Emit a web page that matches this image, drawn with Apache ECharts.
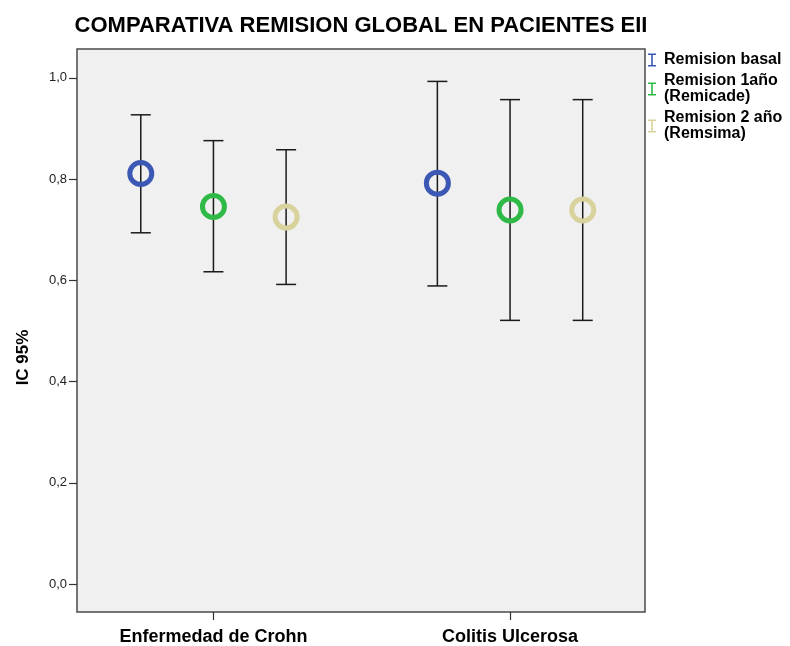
<!DOCTYPE html>
<html>
<head>
<meta charset="utf-8">
<script src="https://cdn.jsdelivr.net/npm/echarts@6/dist/echarts.min.js"></script>
<style>html,body{margin:0;padding:0;background:#fff}#c{width:790px;height:646px}</style>
</head>
<body>
<div id="c"></div>
<script>
const categories = ['Enfermedad de Crohn', 'Colitis Ulcerosa'];
const seriesNames = ['Remision basal', 'Remision 1año\n(Remicade)', 'Remision 2 año\n(Remsima)'];
const seriesColors = ['#3b58b4', '#2fba48', '#d8d39c'];
// mean, lower, upper per category
const basalMean = [0.811, 0.792];
const basalLow = [0.694, 0.589];
const basalHigh = [0.927, 0.993];
const remicadeMean = [0.746, 0.739];
const remicadeLow = [0.617, 0.521];
const remicadeHigh = [0.876, 0.957];
const remsimaMean = [0.725, 0.739];
const remsimaLow = [0.592, 0.521];
const remsimaHigh = [0.858, 0.957];
const yTicks = [0, 0.2, 0.4, 0.6, 0.8, 1.0];

const means = [basalMean, remicadeMean, remsimaMean];
const lows = [basalLow, remicadeLow, remsimaLow];
const highs = [basalHigh, remicadeHigh, remsimaHigh];
const offsets = [-0.245, 0, 0.245];
const catPos = categories.map((c, i) => i + 1);

const chart = echarts.init(document.getElementById('c'));
const series = [];
seriesNames.forEach((name, s) => {
  series.push({
    type: 'custom',
    name: name + '_err',
    silent: true,
    z: 2,
    renderItem: function (params, api) {
      const x = api.value(0);
      const lo = api.coord([x, api.value(1)]);
      const hi = api.coord([x, api.value(2)]);
      const hw = 10;
      const st = { stroke: '#1a1a1a', lineWidth: 1.5 };
      return {
        type: 'group',
        children: [
          { type: 'line', shape: { x1: lo[0], y1: lo[1], x2: hi[0], y2: hi[1] }, style: st },
          { type: 'line', shape: { x1: lo[0] - hw, y1: lo[1], x2: lo[0] + hw, y2: lo[1] }, style: st },
          { type: 'line', shape: { x1: hi[0] - hw, y1: hi[1], x2: hi[0] + hw, y2: hi[1] }, style: st }
        ]
      };
    },
    data: catPos.map((p, i) => [p + offsets[s], lows[s][i], highs[s][i]])
  });
  series.push({
    type: 'scatter',
    name: name,
    z: 3,
    symbol: 'circle',
    symbolSize: 22,
    itemStyle: { color: 'rgba(0,0,0,0)', borderColor: seriesColors[s], borderWidth: 5, opacity: 1 },
    data: catPos.map((p, i) => [p + offsets[s], means[s][i]])
  });
});

const iconPath = 'path://M0,0H8V1.6H4.8V11.4H8V13H0V11.4H3.2V1.6H0Z';

chart.setOption({
  animation: false,
  title: {
    text: 'COMPARATIVA REMISION GLOBAL EN PACIENTES EII',
    left: 356, top: 10, textAlign: 'center',
    textStyle: { fontFamily: 'Liberation Sans', fontWeight: 'bold', fontSize: 22, color: '#000' }
  },
  legend: {
    orient: 'vertical',
    left: 643, top: 47,
    itemWidth: 8, itemHeight: 13,
    itemGap: 5,
    textStyle: { fontFamily: 'Liberation Sans', fontWeight: 'bold', fontSize: 16, color: '#000', lineHeight: 16, padding: [0, 0, 0, 3] },
    data: seriesNames.map((n, s) => ({ name: n, icon: iconPath, itemStyle: { color: seriesColors[s], borderWidth: 0 } }))
  },
  grid: {
    left: 77, top: 49, right: 145, bottom: 33,
    show: true, backgroundColor: '#f0f0f0', borderColor: '#4a4a4a', borderWidth: 1.5
  },
  xAxis: {
    type: 'value', min: 0.54, max: 2.455,
    splitLine: { show: false },
    axisLine: { show: false, onZero: false },
    axisTick: { show: true, length: 8, customValues: catPos, lineStyle: { color: '#333', width: 1.2 } },
    axisLabel: {
      customValues: catPos, margin: 16,
      formatter: v => categories[Math.round(v) - 1] || '',
      fontFamily: 'Liberation Sans', fontWeight: 'bold', fontSize: 18, color: '#000'
    }
  },
  yAxis: {
    type: 'value', min: -0.055, max: 1.057,
    name: 'IC 95%', nameLocation: 'middle', nameGap: 45,
    nameTextStyle: { fontFamily: 'Liberation Sans', fontWeight: 'bold', fontSize: 17, color: '#000', padding: [0, 54, 0, 0] },
    splitLine: { show: false },
    axisLine: { show: false, onZero: false },
    axisTick: { show: true, length: 8, customValues: yTicks, lineStyle: { color: '#333', width: 1.2 } },
    axisLabel: {
      customValues: yTicks, margin: 10,
      formatter: v => v.toFixed(1).replace('.', ','),
      fontFamily: 'Liberation Sans', fontSize: 13, color: '#222'
    }
  },
  series: series
});
</script>
</body>
</html>
